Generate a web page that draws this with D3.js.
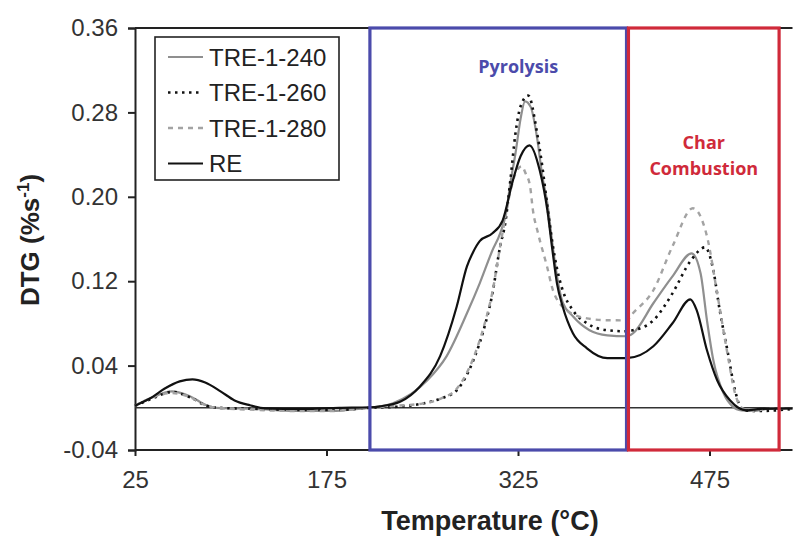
<!DOCTYPE html>
<html>
<head>
<meta charset="utf-8">
<script src="https://cdn.jsdelivr.net/npm/d3@7"></script>
<style>
  body { margin: 0; background: #fff; }
  #chart { width: 795px; height: 537px; }
  text { font-family: "Liberation Sans", Arial, sans-serif; }
</style>
</head>
<body>
<div id="chart"></div>
<script>
// temperatures (C) and DTG values (%/s)
var re_T   = [25, 37, 48, 60, 70, 80, 92, 103, 115, 127, 155, 185, 209, 217, 233, 248, 264, 277, 285, 290, 295, 305, 313, 321, 327, 334, 342, 348, 352, 355.5, 360, 368, 379, 395, 410, 431, 446, 460, 465, 473, 481, 491, 504, 515, 540];
var re_DTG = [0.002, 0.009, 0.018, 0.025, 0.027, 0.024, 0.0156, 0.007, 0.0024, -0.0005, -0.001, 0, 0.0005, 0.0014, 0.006, 0.020, 0.049, 0.096, 0.134, 0.148, 0.158, 0.1654, 0.1777, 0.2156, 0.2384, 0.2488, 0.2251, 0.1872, 0.149, 0.118, 0.096, 0.0706, 0.0564, 0.047, 0.047, 0.0583, 0.0801, 0.1028, 0.0924, 0.0545, 0.0261, 0.0071, -0.0024, -0.001, -0.0005];

var t240_T   = [25, 37, 54, 68, 81, 89, 120, 150, 180, 200, 209, 227, 254, 269, 285, 295, 305, 311, 316, 319, 323, 327, 330.5, 335, 340, 344, 348, 352.4, 355.5, 360, 368, 381, 395, 410, 415, 431, 446, 461, 468, 473, 478, 486, 493, 500, 510, 520, 540];
var t240_DTG = [0.002, 0.009, 0.0156, 0.011, 0.0024, 0, -0.001, -0.003, -0.003, -0.001, 0, 0.0043, 0.0261, 0.0488, 0.0896, 0.118, 0.1493, 0.1654, 0.187, 0.213, 0.241, 0.274, 0.2905, 0.285, 0.2554, 0.22, 0.1938, 0.1512, 0.125, 0.10, 0.0867, 0.0735, 0.0687, 0.0678, 0.0706, 0.0991, 0.1246, 0.1464, 0.1275, 0.0829, 0.045, 0.0137, 0.0014, -0.0024, -0.003, -0.001, -0.0005];

var t260_T   = [25, 37, 54, 68, 81, 90, 120, 150, 180, 200, 209, 230, 250, 265, 277, 290, 298, 305, 311, 315, 319, 323, 327, 333, 340, 344, 348, 352, 355.5, 360, 368, 379, 395, 410, 415, 431, 446, 460, 471.5, 478, 483, 489, 495, 501, 515, 540];
var t260_DTG = [0.002, 0.008, 0.015, 0.010, 0.002, 0, -0.001, -0.002, -0.002, -0.001, 0, 0.001, 0.004, 0.009, 0.0166, 0.045, 0.0735, 0.1085, 0.1531, 0.1749, 0.2156, 0.260, 0.2858, 0.296, 0.260, 0.229, 0.191, 0.1559, 0.1322, 0.1114, 0.0924, 0.0801, 0.0735, 0.0725, 0.0735, 0.0829, 0.1085, 0.139, 0.1521, 0.1303, 0.0924, 0.0545, 0.0166, -0.0024, -0.003, -0.001];

var t280_T   = [25, 37, 54, 68, 81, 90, 120, 150, 180, 200, 209, 230, 250, 265, 277, 290, 298, 305, 311, 315, 319, 323, 328, 331, 334.4, 336.7, 340.7, 347.7, 352.4, 363.4, 379, 395, 410, 415, 431, 446, 462, 473, 481, 489, 495, 501, 510, 520, 540];
var t280_DTG = [0.002, 0.009, 0.014, 0.010, 0.002, 0, -0.002, -0.003, -0.003, -0.001, 0, 0.002, 0.004, 0.009, 0.018, 0.047, 0.076, 0.11, 0.153, 0.18, 0.205, 0.222, 0.229, 0.222, 0.2104, 0.1872, 0.1654, 0.1341, 0.1114, 0.0924, 0.0848, 0.083, 0.0829, 0.0896, 0.1114, 0.1531, 0.1891, 0.1626, 0.1085, 0.0517, 0.0137, -0.0005, -0.003, -0.001, -0.0005];

var seriesNames = ["TRE-1-240", "TRE-1-260", "TRE-1-280", "RE"];
var xTicks = [25, 175, 325, 475];
var yTicks = [-0.04, 0.04, 0.12, 0.20, 0.28, 0.36];

// annotation regions (temperature span)
var regionNames = ["Pyrolysis", "Char Combustion"];
var regionFrom = [209, 411.5];
var regionTo = [410, 529.5];

var series = [
    {name: seriesNames[0], T: t240_T, v: t240_DTG, color: "#8f8f8f", width: 2.2, dash: null},
    {name: seriesNames[1], T: t260_T, v: t260_DTG, color: "#111", width: 2.6, dash: "2.5,4.5"},
    {name: seriesNames[2], T: t280_T, v: t280_DTG, color: "#a3a3a3", width: 2.4, dash: "5,5"},
    {name: seriesNames[3], T: re_T, v: re_DTG, color: "#111", width: 2.2, dash: null}
];

var width = 795, height = 537;
var svg = d3.select("#chart").append("svg")
    .attr("width", width)
    .attr("height", height);

var x = d3.scaleLinear().domain([25, 540]).range([135, 792.5]);
var y = d3.scaleLinear().domain([-0.04, 0.36]).range([450, 28]);

// frame: top, left, bottom
svg.append("line").attr("x1", x(25)).attr("x2", x(540)).attr("y1", y(0.36)).attr("y2", y(0.36))
    .attr("stroke", "#222").attr("stroke-width", 1.8);

var yAxis = svg.append("g")
    .attr("transform", "translate(" + x(25) + ",0)")
    .call(d3.axisLeft(y).tickValues(yTicks).tickSize(7).tickPadding(10)
        .tickFormat(function(d) { return d3.format(".2f")(d).replace("\u2212", "-"); }));

var xAxis = svg.append("g")
    .attr("transform", "translate(0," + y(-0.04) + ")")
    .call(d3.axisBottom(x).tickValues(xTicks).tickSize(6).tickPadding(15).tickFormat(d3.format("d")));

[yAxis, xAxis].forEach(function(a) {
    a.select(".domain").attr("stroke", "#222").attr("stroke-width", 2);
    a.selectAll(".tick line").attr("stroke", "#222").attr("stroke-width", 2);
    a.selectAll(".tick text")
        .attr("fill", "#333")
        .style("font-family", "'Liberation Sans', Arial, sans-serif")
        .style("font-size", "24px");
});
xAxis.select(".domain").attr("d", "M" + x(25) + ",0H" + x(540));

// zero line
svg.append("line")
    .attr("x1", x(25)).attr("x2", x(540))
    .attr("y1", y(0)).attr("y2", y(0))
    .attr("stroke", "#333").attr("stroke-width", 1.5);

var line = d3.line()
    .x(function(d) { return x(d[0]); })
    .y(function(d) { return y(d[1]); })
    .curve(d3.curveMonotoneX);

svg.selectAll("path.curve")
    .data(series)
    .enter()
    .append("path")
        .attr("class", "curve")
        .attr("fill", "none")
        .attr("stroke", function(d) { return d.color; })
        .attr("stroke-width", function(d) { return d.width; })
        .attr("stroke-dasharray", function(d) { return d.dash; })
        .attr("d", function(d) { return line(d3.zip(d.T, d.v)); });

// region boxes
var regionColors = ["#4b4bab", "#d02a3a"];
svg.selectAll("rect.region")
    .data(regionNames)
    .enter()
    .append("rect")
        .attr("class", "region")
        .attr("x", function(d, i) { return x(regionFrom[i]); })
        .attr("y", y(0.36))
        .attr("width", function(d, i) { return x(regionTo[i]) - x(regionFrom[i]); })
        .attr("height", y(-0.04) - y(0.36))
        .attr("fill", "none")
        .attr("stroke", function(d, i) { return regionColors[i]; })
        .attr("stroke-width", 3.2);

svg.append("text")
    .attr("x", x((regionFrom[0] + regionTo[0]) / 2) + 20)
    .attr("y", 73)
    .attr("text-anchor", "middle")
    .attr("fill", regionColors[0])
    .style("font-family", "'Open Sans', sans-serif")
    .style("font-weight", "bold")
    .style("font-size", "18px")
    .text(regionNames[0]);

var charLabel = svg.append("text")
    .attr("text-anchor", "middle")
    .attr("fill", regionColors[1])
    .style("font-family", "'Open Sans', sans-serif")
    .style("font-weight", "bold")
    .style("font-size", "18px");
charLabel.append("tspan").attr("x", x((regionFrom[1] + regionTo[1]) / 2)).attr("y", 149).text("Char");
charLabel.append("tspan").attr("x", x((regionFrom[1] + regionTo[1]) / 2)).attr("y", 175).text("Combustion");

// legend
var legend = svg.append("g");
legend.append("rect")
    .attr("x", 155).attr("y", 37)
    .attr("width", 184).attr("height", 143)
    .attr("fill", "#fff")
    .attr("stroke", "#222").attr("stroke-width", 1.6);

var items = legend.selectAll("g.item")
    .data(series)
    .enter()
    .append("g")
    .attr("transform", function(d, i) { return "translate(0," + (57 + i * 35.5) + ")"; });

items.append("line")
    .attr("x1", 168).attr("x2", 203)
    .attr("stroke", function(d) { return d.color; })
    .attr("stroke-width", function(d) { return d.width; })
    .attr("stroke-dasharray", function(d) { return d.dash; });

items.append("text")
    .attr("x", 209)
    .attr("dy", "0.36em")
    .attr("fill", "#222")
    .style("font-size", "24px")
    .text(function(d) { return d.name; });

// axis titles
svg.append("text")
    .attr("x", 490).attr("y", 530)
    .attr("text-anchor", "middle")
    .attr("fill", "#222")
    .style("font-weight", "bold")
    .style("font-size", "27px")
    .text("Temperature (\u00B0C)");

var ylab = svg.append("text")
    .attr("transform", "translate(39,240) rotate(-90)")
    .attr("text-anchor", "middle")
    .attr("fill", "#222")
    .style("font-weight", "bold")
    .style("font-size", "26px");
ylab.append("tspan").text("DTG (%s");
ylab.append("tspan").attr("dy", "-10").style("font-size", "17px").text("-1");
ylab.append("tspan").attr("dy", "10").text(")");
</script>
</body>
</html>
